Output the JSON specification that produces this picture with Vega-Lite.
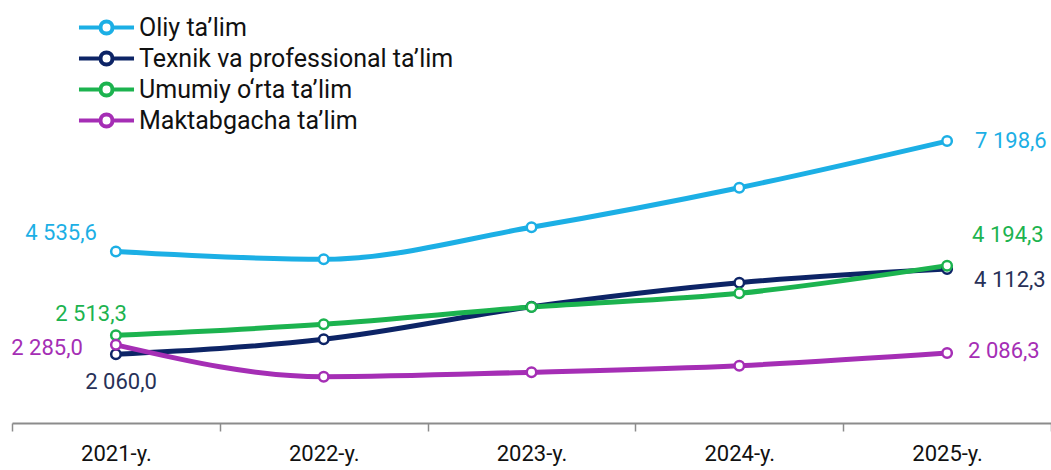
{
  "$schema": "https://vega.github.io/schema/vega-lite/v6.json",
  "width": 1039,
  "height": 423,
  "autosize": {"type": "none"},
  "padding": {"left": 12, "top": 0, "right": 0, "bottom": 47},
  "config": {
    "view": {"stroke": null},
    "font": "Roboto",
    "locale": {"number": {"decimal": ",", "thousands": " ", "grouping": [3], "currency": ["", ""]}}
  },
  "data": {
    "values": [
      {"year": "2021-y.", "series": "Oliy ta’lim", "value": 4535.6},
      {"year": "2022-y.", "series": "Oliy ta’lim", "value": 4347},
      {"year": "2023-y.", "series": "Oliy ta’lim", "value": 5119},
      {"year": "2024-y.", "series": "Oliy ta’lim", "value": 6074},
      {"year": "2025-y.", "series": "Oliy ta’lim", "value": 7198.6},
      {"year": "2021-y.", "series": "Texnik va professional ta’lim", "value": 2060.0},
      {"year": "2022-y.", "series": "Texnik va professional ta’lim", "value": 2418},
      {"year": "2023-y.", "series": "Texnik va professional ta’lim", "value": 3204},
      {"year": "2024-y.", "series": "Texnik va professional ta’lim", "value": 3783},
      {"year": "2025-y.", "series": "Texnik va professional ta’lim", "value": 4112.3},
      {"year": "2021-y.", "series": "Umumiy o‘rta ta’lim", "value": 2513.3},
      {"year": "2022-y.", "series": "Umumiy o‘rta ta’lim", "value": 2780},
      {"year": "2023-y.", "series": "Umumiy o‘rta ta’lim", "value": 3195},
      {"year": "2024-y.", "series": "Umumiy o‘rta ta’lim", "value": 3528},
      {"year": "2025-y.", "series": "Umumiy o‘rta ta’lim", "value": 4194.3},
      {"year": "2021-y.", "series": "Maktabgacha ta’lim", "value": 2285.0},
      {"year": "2022-y.", "series": "Maktabgacha ta’lim", "value": 1516},
      {"year": "2023-y.", "series": "Maktabgacha ta’lim", "value": 1623},
      {"year": "2024-y.", "series": "Maktabgacha ta’lim", "value": 1782},
      {"year": "2025-y.", "series": "Maktabgacha ta’lim", "value": 2086.3}
    ]
  },
  "encoding": {
    "x": {
      "field": "year", "type": "ordinal", "title": null,
      "scale": {"paddingInner": 0, "paddingOuter": 0},
      "axis": {
        "labelAngle": 0, "labelFontSize": 22, "labelColor": "#111111", "labelFont": "Roboto",
        "domainColor": "#8c8c8c", "domainWidth": 2, "tickColor": "#8c8c8c", "tickWidth": 1.5,
        "tickSize": 8, "tickBand": "extent", "labelPadding": 12
      }
    },
    "y": {
      "field": "value", "type": "quantitative",
      "scale": {"domain": [400, 10600], "nice": false, "zero": false},
      "axis": null
    }
  },
  "layer": [
    {
      "mark": {"type": "line", "strokeWidth": 5, "interpolate": "monotone"},
      "encoding": {
        "color": {
          "field": "series", "type": "nominal",
          "scale": {
            "domain": ["Oliy ta’lim", "Texnik va professional ta’lim", "Umumiy o‘rta ta’lim", "Maktabgacha ta’lim"],
            "range": ["#1CAFE5", "#0D2466", "#1CB34F", "#A52EB5"]
          },
          "legend": {
            "title": null,
            "orient": "none",
            "legendX": 82,
            "legendY": 15,
            "symbolType": "M-3.67,0 L-0.8,0 M0.8,0 L3.67,0 M-0.8,0 A0.8,0.8 0 1 1 0.8,0 A0.8,0.8 0 1 1 -0.8,0 Z",
            "symbolSize": 225,
            "symbolStrokeWidth": 4,
            "labelOffset": 20,
            "labelFontSize": 25,
            "labelFont": "Roboto",
            "labelColor": "#111111",
            "labelLimit": 500,
            "rowPadding": 2,
            "padding": 0,
            "encode": {"symbols": {"update": {"fill": {"value": "white"}}}}
          }
        },
        "order": {"field": "series"}
      }
    },
    {
      "mark": {"type": "point", "filled": true, "fill": "white", "size": 90, "strokeWidth": 2.5, "opacity": 1},
      "encoding": {
        "stroke": {"field": "series", "type": "nominal", "legend": null,
          "scale": {
            "domain": ["Oliy ta’lim", "Texnik va professional ta’lim", "Umumiy o‘rta ta’lim", "Maktabgacha ta’lim"],
            "range": ["#1CAFE5", "#0D2466", "#1CB34F", "#A52EB5"]
          }
        }
      }
    },
    {
      "transform": [{"filter": "datum.year == '2021-y.' && datum.series == 'Oliy ta’lim'"}],
      "mark": {"type": "text", "fontSize": 22, "align": "right", "baseline": "middle", "dx": -19, "dy": -18, "color": "#1CAFE5"},
      "encoding": {"text": {"field": "value", "type": "quantitative", "format": ",.1f"}}
    },
    {
      "transform": [{"filter": "datum.year == '2021-y.' && datum.series == 'Umumiy o‘rta ta’lim'"}],
      "mark": {"type": "text", "fontSize": 22, "align": "right", "baseline": "middle", "dx": 11, "dy": -21, "color": "#1CB34F"},
      "encoding": {"text": {"field": "value", "type": "quantitative", "format": ",.1f"}}
    },
    {
      "transform": [{"filter": "datum.year == '2021-y.' && datum.series == 'Maktabgacha ta’lim'"}],
      "mark": {"type": "text", "fontSize": 22, "align": "right", "baseline": "middle", "dx": -33, "dy": 3, "color": "#A52EB5"},
      "encoding": {"text": {"field": "value", "type": "quantitative", "format": ",.1f"}}
    },
    {
      "transform": [{"filter": "datum.year == '2021-y.' && datum.series == 'Texnik va professional ta’lim'"}],
      "mark": {"type": "text", "fontSize": 22, "align": "right", "baseline": "middle", "dx": 41, "dy": 28, "color": "#283158"},
      "encoding": {"text": {"field": "value", "type": "quantitative", "format": ",.1f"}}
    },
    {
      "transform": [{"filter": "datum.year == '2025-y.' && datum.series == 'Oliy ta’lim'"}],
      "mark": {"type": "text", "fontSize": 22, "align": "left", "baseline": "middle", "dx": 28, "dy": 0, "color": "#1CAFE5"},
      "encoding": {"text": {"field": "value", "type": "quantitative", "format": ",.1f"}}
    },
    {
      "transform": [{"filter": "datum.year == '2025-y.' && datum.series == 'Umumiy o‘rta ta’lim'"}],
      "mark": {"type": "text", "fontSize": 22, "align": "left", "baseline": "middle", "dx": 25, "dy": -31, "color": "#1CB34F"},
      "encoding": {"text": {"field": "value", "type": "quantitative", "format": ",.1f"}}
    },
    {
      "transform": [{"filter": "datum.year == '2025-y.' && datum.series == 'Texnik va professional ta’lim'"}],
      "mark": {"type": "text", "fontSize": 22, "align": "left", "baseline": "middle", "dx": 27, "dy": 11, "color": "#283158"},
      "encoding": {"text": {"field": "value", "type": "quantitative", "format": ",.1f"}}
    },
    {
      "transform": [{"filter": "datum.year == '2025-y.' && datum.series == 'Maktabgacha ta’lim'"}],
      "mark": {"type": "text", "fontSize": 22, "align": "left", "baseline": "middle", "dx": 21, "dy": -2, "color": "#A52EB5"},
      "encoding": {"text": {"field": "value", "type": "quantitative", "format": ",.1f"}}
    }
  ]
}
